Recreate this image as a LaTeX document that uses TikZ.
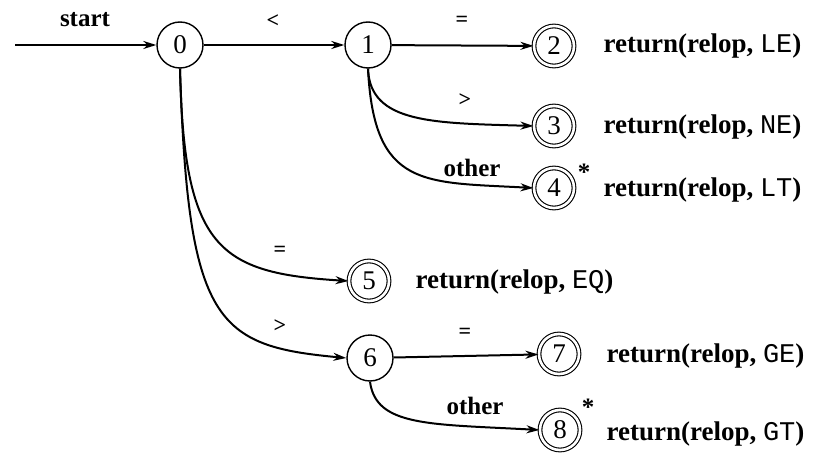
\documentclass[tikz,border=0pt]{standalone}
\usepackage{fontspec}
\setmainfont{Liberation Serif}
\setmonofont{Liberation Mono}
\usetikzlibrary{arrows.meta}
\begin{document}
\begin{tikzpicture}[x=1pt,y=-1pt,
  st/.style={circle,draw,line width=1.4pt,minimum size=46pt,inner sep=0pt,font=\fontsize{27}{27}\selectfont},
  acc/.style={st,double,double distance=2.6pt,line width=1.1pt,minimum size=40pt},
  arr/.style={line width=2pt,-{Stealth[length=13pt,width=8pt]}},
  lab/.style={font=\bfseries\fontsize{25}{25}\selectfont},
  sym/.style={font=\bfseries\fontsize{22}{22}\selectfont},
  ret/.style={anchor=west,font=\bfseries\fontsize{27}{27}\selectfont}]
\useasboundingbox (0,0) rectangle (814,460);
\node[st] (n0) at (180,45) {0};
\node[st] (n1) at (368,45) {1};
\node[acc] (n2) at (554,46) {2};
\node[acc] (n3) at (554,126) {3};
\node[acc] (n4) at (554,188) {4};
\node[acc] (n5) at (369,281) {5};
\node[st] (n6) at (370,358) {6};
\node[acc] (n7) at (559,354) {7};
\node[acc] (n8) at (560,430) {8};
\coordinate (s) at (15,45);

\draw[arr] (s) -- (n0);
\draw[arr] (n0) -- (n1);
\draw[arr] (n1) -- (n2);
\draw[arr] (n1.south) .. controls +(2,55) and +(-100,-3) .. (n3.west);
\draw[arr] (n1.south) .. controls +(6,120) and +(-110,-6) .. (n4.west);
\draw[arr] (n0.south) .. controls +(4,180) and +(-130,-8) .. (n5.west);
\draw[arr] (n0.south) .. controls +(8,255) and +(-130,-12) .. (n6.west);
\draw[arr] (n6) -- (n7);
\draw[arr] (n6.south) .. controls +(6,45) and +(-110,-6) .. (n8.west);

\node[lab] (ls) at (85,20) {start};
\node[sym] (l01) at (273,21) {<};
\node[sym] (l12) at (462,21) {=};
\node[sym] (l13) at (465,100) {>};
\node[lab] (l14) at (472,168) {other};
\node[sym] (l05) at (280,251) {=};
\node[sym] (l06) at (280,326) {>};
\node[sym] (l67) at (465,333) {=};
\node[lab] (l68) at (475,406) {other};
\node[lab] (a4) at (584,172) {*};
\node[lab] (a8) at (588,407) {*};

\node[ret] (r2) at (600,46) {return(relop, {\mdseries\ttfamily LE})};
\node[ret] (r3) at (600,127) {return(relop, {\mdseries\ttfamily NE})};
\node[ret] (r4) at (600,190) {return(relop, {\mdseries\ttfamily LT})};
\node[ret] (r5) at (412,282) {return(relop, {\mdseries\ttfamily EQ})};
\node[ret] (r7) at (603,356) {return(relop, {\mdseries\ttfamily GE})};
\node[ret] (r8) at (603,434) {return(relop, {\mdseries\ttfamily GT})};
\end{tikzpicture}
\end{document}
